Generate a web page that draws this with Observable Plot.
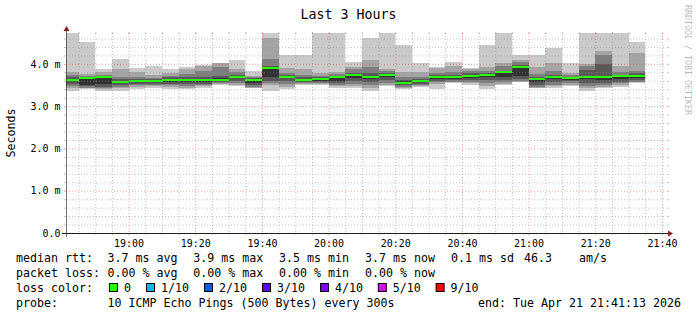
<!DOCTYPE html>
<html><head><meta charset="utf-8">
<script src="https://cdn.jsdelivr.net/npm/d3@7"></script>
<script src="https://cdn.jsdelivr.net/npm/@observablehq/plot@0.6"></script>
<style>
html,body{margin:0;padding:0;background:#fff;}
#chart{width:697px;height:315px;overflow:hidden;}
</style></head><body><div id="chart"></div>
<script>
// ---- data: 10 sorted ping RTTs (ms) per 5-minute step, plus median ----
const stepEnds = ["18:45","18:50","18:55","19:00","19:05","19:10","19:15","19:20","19:25","19:30","19:35","19:40","19:45","19:50","19:55","20:00","20:05","20:10","20:15","20:20","20:25","20:30","20:35","20:40","20:45","20:50","20:55","21:00","21:05","21:10","21:15","21:20","21:25","21:30","21:35"];
const p1  = [3.37,3.40,3.37,3.35,3.41,3.44,3.41,3.40,3.43,3.51,3.47,3.42,3.37,3.41,3.50,3.50,3.43,3.42,3.36,3.47,3.40,3.45,3.40,3.55,3.51,3.40,3.49,3.56,3.42,3.43,3.47,3.37,3.42,3.46,3.54];
const p2  = [3.44,3.42,3.40,3.42,3.46,3.47,3.46,3.44,3.47,3.53,3.51,3.44,3.50,3.46,3.52,3.52,3.48,3.47,3.43,3.51,3.43,3.47,3.53,3.56,3.54,3.48,3.52,3.58,3.44,3.47,3.51,3.42,3.46,3.50,3.56];
const p3  = [3.47,3.44,3.42,3.45,3.49,3.49,3.49,3.48,3.50,3.54,3.55,3.46,3.55,3.52,3.54,3.54,3.51,3.52,3.50,3.55,3.46,3.49,3.56,3.58,3.57,3.55,3.56,3.60,3.46,3.51,3.55,3.47,3.50,3.54,3.58];
const p4  = [3.52,3.47,3.45,3.50,3.52,3.52,3.53,3.52,3.53,3.56,3.60,3.50,3.60,3.60,3.57,3.57,3.55,3.60,3.58,3.62,3.49,3.52,3.60,3.61,3.61,3.61,3.61,3.65,3.50,3.57,3.59,3.55,3.55,3.58,3.62];
const p5  = [3.60,3.50,3.52,3.55,3.57,3.56,3.58,3.58,3.58,3.60,3.66,3.55,3.70,3.66,3.60,3.60,3.60,3.66,3.64,3.68,3.53,3.56,3.64,3.65,3.66,3.68,3.70,3.72,3.56,3.64,3.63,3.64,3.62,3.64,3.66];
const p6  = [3.64,3.68,3.71,3.60,3.61,3.61,3.64,3.64,3.64,3.66,3.71,3.64,3.93,3.72,3.64,3.66,3.70,3.75,3.72,3.75,3.59,3.61,3.72,3.72,3.74,3.76,3.81,3.95,3.66,3.71,3.68,3.72,3.72,3.72,3.72];
const p7  = [3.68,3.70,3.72,3.64,3.64,3.64,3.68,3.68,3.70,3.72,3.74,3.66,3.95,3.74,3.68,3.68,3.72,3.78,3.78,3.79,3.62,3.65,3.74,3.74,3.78,3.78,3.84,3.97,3.70,3.74,3.70,3.85,3.99,3.74,3.78];
const p8  = [3.73,3.72,3.74,3.70,3.70,3.67,3.72,3.75,3.82,3.92,3.80,3.68,4.12,3.78,3.74,3.72,3.76,3.87,3.93,3.83,3.68,3.70,3.79,3.80,3.84,3.84,3.96,4.05,3.77,3.83,3.74,3.95,4.20,3.80,3.84];
const p9  = [3.81,3.76,3.80,3.88,3.81,3.74,3.79,3.87,3.94,4.01,3.87,3.72,4.62,3.91,3.89,3.79,3.81,3.92,4.10,3.88,3.80,3.80,3.91,3.96,3.88,3.93,4.03,4.09,3.92,4.03,3.79,3.99,4.30,3.96,4.26];
const p10 = [4.80,4.52,3.88,4.12,3.91,3.96,3.87,3.93,3.97,4.03,4.10,3.83,4.80,4.21,4.21,4.90,4.90,4.04,4.62,4.90,4.44,4.01,3.93,4.05,3.91,4.44,4.90,4.21,4.21,4.38,4.03,4.90,4.90,4.90,4.52];
const medianRtt = [3.62,3.66,3.70,3.58,3.59,3.60,3.62,3.62,3.61,3.62,3.69,3.63,3.91,3.70,3.62,3.65,3.69,3.73,3.69,3.73,3.54,3.59,3.70,3.70,3.72,3.74,3.80,3.93,3.64,3.70,3.67,3.69,3.70,3.71,3.71];

const day = "2026-04-21";
const rangeStart = "18:41:13", rangeEnd = "21:41:13";
const stepMinutes = 5;
const yMax = 4.73;
const xTickLabels = ["19:00","19:20","19:40","20:00","20:20","20:40","21:00","21:20","21:40"];
const yTickValues = [0, 1, 2, 3, 4];
const smokeGrays = ["#cacaca","#a4a4a4","#7e7e7e","#585858","#323232"];
const lossLabels = ["0","1/10","2/10","3/10","4/10","5/10","9/10"];
const lossColors = ["#26ff00","#00b8ff","#0059ff","#5e00ff","#7e00ff","#dd00ff","#ff0000"];

const titleText = "Last 3 Hours";
const yLabelText = "Seconds";
const watermark = "RRDTOOL / TOBI OETIKER";
const legendRtt = ["median rtt:","3.7 ms avg","3.9 ms max","3.5 ms min","3.7 ms now","0.1 ms sd","46.3","am/s"];
const legendLoss = ["packet loss:","0.00 % avg","0.00 % max","0.00 % min","0.00 % now"];
const legendColorHead = "loss color:";
const legendProbe = ["probe:","10 ICMP Echo Pings (500 Bytes) every 300s","end: Tue Apr 21 21:41:13 2026"];

// ---- build ----
const t = s => new Date(`${day}T${s.length === 5 ? s + ":00" : s}Z`);
const pings = [p1,p2,p3,p4,p5,p6,p7,p8,p9,p10];
const bands = [];
const meds = [];
stepEnds.forEach((e, i) => {
  const end = t(e);
  const start = d3.utcMinute.offset(end, -stepMinutes);
  for (let k = 0; k < 5; k++) bands.push({start, end, lo: pings[k][i], hi: pings[9 - k][i], fill: smokeGrays[k]});
  meds.push({start, end, m: medianRtt[i]});
});
const pxMs = yMax / 200; // one pixel in ms (smokeping median band half-width)

const x0 = t(rangeStart), x1 = t(rangeEnd);
const xMajor = xTickLabels.map(t);
const xMinor = d3.utcMinute.every(5).range(x0, x1).filter(d => d.getUTCMinutes() % 20 !== 0);
const yMajor = yTickValues;
const yMinor = d3.range(1, Math.floor(yMax / 0.2) + 1).map(i => +(i * 0.2).toFixed(1)).filter(v => Math.abs(v - Math.round(v)) > 1e-6);

const minorColor = "rgba(143,143,143,0.5)";
const majorColor = "rgba(222,79,79,0.5)";
const axisColor = "#1f1f1f";
const arrowColor = "#801f1f";
const dash = "1,2";

const chart = Plot.plot({
  width: 697, height: 315,
  marginLeft: 66, marginRight: 31, marginTop: 33, marginBottom: 82,
  style: {fontFamily: "'DejaVu Sans Mono', monospace", fontSize: "9.97px", background: "#fff", color: "#000", overflow: "visible"},
  x: {type: "utc", domain: [x0, x1]},
  y: {domain: [0, yMax]},
  marks: [
    Plot.rect(bands, {x1: "start", x2: "end", y1: "lo", y2: "hi", fill: "fill", clip: true, shapeRendering: "crispEdges"}),
    Plot.rect(meds, {x1: "start", x2: "end", y1: d => d.m - pxMs, y2: d => d.m + pxMs, fill: lossColors[0], clip: true, shapeRendering: "crispEdges"}),
    Plot.ruleX(xMinor, {stroke: minorColor, strokeDasharray: dash}),
    Plot.ruleY(yMinor, {stroke: minorColor, strokeDasharray: dash}),
    Plot.ruleX(xMajor, {stroke: majorColor, strokeDasharray: dash}),
    Plot.ruleY(yMajor.filter(v => v > 0), {stroke: majorColor, strokeDasharray: dash}),
    Plot.axisX({ticks: xMinor, tickSize: 2, fill: "none", stroke: minorColor, label: null}),
    Plot.axisX({anchor: "top", ticks: xMinor, tickSize: 2, fill: "none", stroke: minorColor, label: null}),
    Plot.axisY({ticks: yMinor, tickSize: 2, fill: "none", stroke: minorColor, label: null}),
    Plot.axisY({anchor: "right", ticks: yMinor, tickSize: 2, fill: "none", stroke: minorColor, label: null}),
    Plot.axisX({anchor: "top", ticks: xMajor, tickSize: 2, fill: "none", stroke: majorColor, label: null}),
    Plot.axisY({anchor: "right", ticks: yMajor, tickSize: 2, fill: "none", stroke: majorColor, label: null}),
    Plot.axisX({ticks: xMajor, tickSize: 2, tickPadding: 4, stroke: majorColor, fill: "#000", tickFormat: d3.utcFormat("%H:%M"), label: null}),
    Plot.axisY({ticks: yMajor, tickSize: 2, tickPadding: 4, stroke: majorColor, fill: "#000", tickFormat: v => v === 0 ? "0.0" : v.toFixed(1) + " m", label: null}),
    Plot.ruleY([0], {stroke: axisColor, insetLeft: -4, insetRight: -4}),
    Plot.ruleX([x0], {stroke: axisColor, strokeOpacity: 0.6, insetTop: -4, insetBottom: -4})
  ]
});
document.getElementById("chart").appendChild(chart);

// ---- decorations & texts ----
const svg = d3.select(chart);
const [xa, xb] = chart.scale("x").range;
const [ya, yb] = chart.scale("y").range;
svg.append("polygon").attr("points", `${xb + 2},${ya - 3 + 0.5} ${xb + 2},${ya + 3 + 0.5} ${xb + 7},${ya + 0.5}`).attr("fill", arrowColor);
svg.append("polygon").attr("points", `${xa - 3 + 0.5},${yb - 2} ${xa + 3 + 0.5},${yb - 2} ${xa + 0.5},${yb - 7}`).attr("fill", arrowColor);

const font = "'DejaVu Sans Mono', monospace";
const txt = (s, x, y, size, anchor = "start") =>
  svg.append("text").attr("x", x).attr("y", y).attr("font-family", font).attr("font-size", size)
    .attr("text-anchor", anchor).attr("fill", "#000").text(s);
txt(titleText, 348.5, 19, "13.29px", "middle");
svg.append("text").attr("transform", "translate(15,133) rotate(-90)").attr("text-anchor", "middle")
  .attr("font-family", font).attr("font-size", "11.63px").attr("fill", "#000").text(yLabelText);
svg.append("text").attr("transform", "translate(685,5) rotate(90)").attr("text-anchor", "start")
  .attr("font-family", font).attr("font-size", "8.3px").attr("fill", "rgba(0,0,0,0.3)").text(watermark);

const L = "11.63px";
const colX = [16, 107.6, 193.3, 279, 365, 451, 524, 579];
legendRtt.forEach((s, i) => txt(s, colX[i], 262, L));
legendLoss.forEach((s, i) => txt(s, colX[i], 277, L));
txt(legendColorHead, colX[0], 292, L);
const boxX = [108.9, 146, 204, 262, 320, 377.8, 435.6];
lossLabels.forEach((s, i) => {
  svg.append("rect").attr("x", boxX[i] + 0.5).attr("y", 283.5).attr("width", 8).attr("height", 8)
    .attr("fill", lossColors[i]).attr("stroke", "#000").attr("stroke-width", 1);
  txt(s, boxX[i] + 15, 292, L);
});
txt(legendProbe[0], colX[0], 307, L);
txt(legendProbe[1], colX[1], 307, L);
txt(legendProbe[2], 478, 307, L);
</script></body></html>
